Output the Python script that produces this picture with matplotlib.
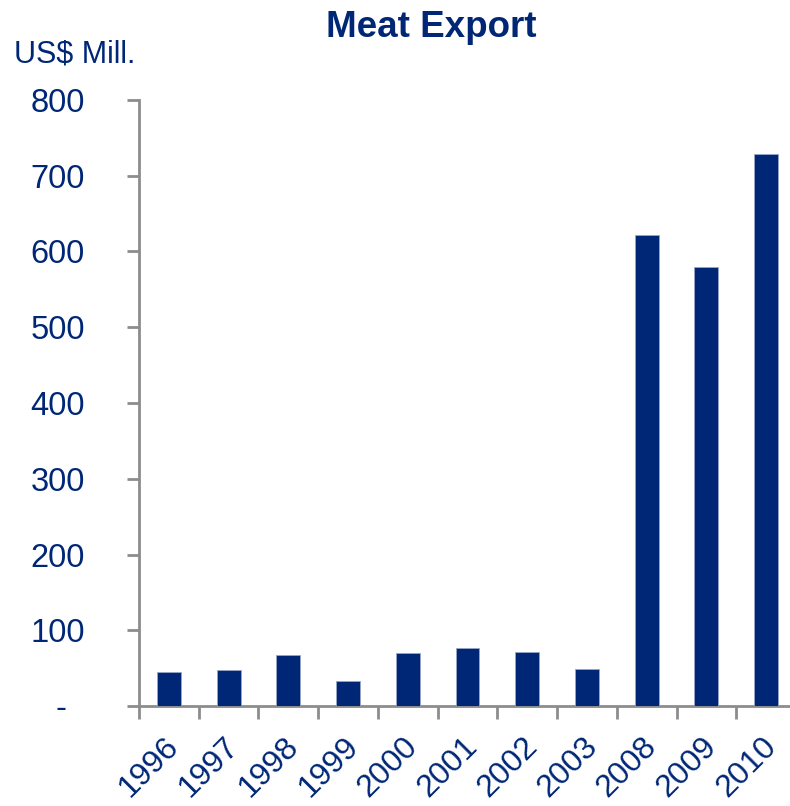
import matplotlib.pyplot as plt
import matplotlib.transforms as mtransforms
import numpy as np

plt.rcParams['font.family'] = ['Liberation Sans', 'DejaVu Sans']

years = ['1996', '1997', '1998', '1999', '2000', '2001', '2002', '2003', '2008', '2009', '2010']
export_musd = [45, 47, 67, 33, 70, 76, 71, 49, 622, 579, 728]
y_ticks = [0, 100, 200, 300, 400, 500, 600, 700, 800]

navy = '#002776'
axis_grey = '#8c8c8c'

fig = plt.figure(figsize=(7.9, 8.06), dpi=100)
ax = fig.add_axes([0.176, 0.124, 0.8316, 0.752])

x = np.arange(len(years))
ax.bar(x, export_musd, width=0.4, color=navy, edgecolor='#9aa6c8', linewidth=0.6, zorder=3)

ax.set_xlim(-0.5, len(years) - 0.5)
ax.set_ylim(0, 800)

# y axis: "-" for zero, like the accounting format
ax.set_yticks(y_ticks)
ax.set_yticklabels(['-  ' if v == 0 else str(v) for v in y_ticks])

# category labels at bar centres, tick marks on the boundaries
ax.set_xticks(x)
ax.set_xticklabels(years, rotation=45, ha='right', va='top', rotation_mode='anchor')
ax.set_xticks(np.arange(len(years) + 1) - 0.5, minor=True)
ax.tick_params(axis='x', which='major', length=0, pad=18, labelsize=23, labelcolor=navy)
ax.tick_params(axis='x', which='minor', length=9, width=2, color=axis_grey, direction='out')
ax.tick_params(axis='y', length=9, width=2, color=axis_grey, direction='out',
               pad=30, labelsize=23.5, labelcolor=navy)

# pull rotated labels slightly left so they end under the bar
shift = mtransforms.ScaledTranslation(-5 / 100, 0, fig.dpi_scale_trans)
for lbl in ax.get_xticklabels():
    lbl.set_transform(lbl.get_transform() + shift)

for side in ['top', 'right']:
    ax.spines[side].set_visible(False)
for side in ['left', 'bottom']:
    ax.spines[side].set_color(axis_grey)
    ax.spines[side].set_linewidth(2)

fig.text(0.546, 0.966, 'Meat Export', ha='center', va='center',
         fontsize=26.5, fontweight='bold', color=navy)
fig.text(0.018, 0.933, 'US$ Mill.', ha='left', va='center', fontsize=22, color=navy)

plt.savefig('out.png', dpi=100)
plt.close()
